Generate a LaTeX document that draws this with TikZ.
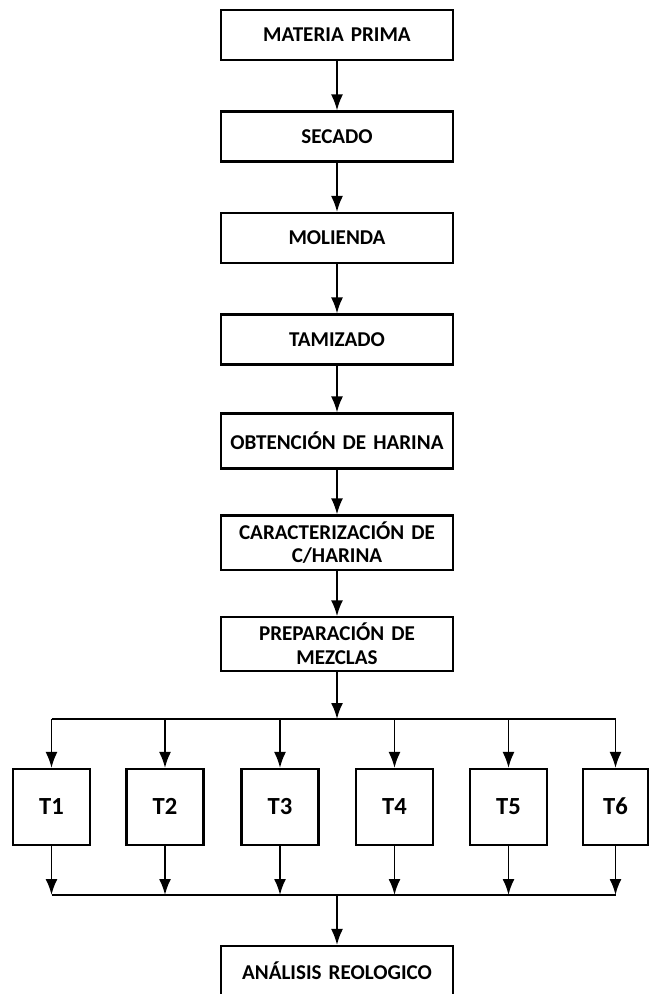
\documentclass[tikz,border=0pt]{standalone}
\usepackage{fontspec}
\setmainfont[Numbers=Lining]{Carlito}
\usepackage{tikz}
\usetikzlibrary{arrows.meta}
\tikzstyle{paso} = [rectangle, minimum width=4.6cm, text width=4.4cm,
minimum height=1cm, text centered, draw=black, line width=1.2pt, font=\bfseries\fontsize{12}{13.5}\selectfont]
\tikzstyle{trat} = [rectangle, minimum width=1.54cm, minimum height=1.52cm,
text height=1.7ex, text depth=0pt, text centered, draw=black, line width=1.2pt, font=\bfseries\fontsize{14}{16}\selectfont]
\tikzstyle{arrow} = [line width=1.1pt,-{Latex[length=3.2mm,width=2.4mm]}]
\tikzstyle{bus} = [line width=1.1pt]

\begin{document}
\begin{tikzpicture}[node distance=2.03cm]
\useasboundingbox (0,0) rectangle (13,-19.88);
\node (mp)[paso] at (6.74,-0.7) {MATERIA PRIMA};
\node (sec)[paso, below of=mp]{SECADO};
\node (mol)[paso, below of=sec]{MOLIENDA};
\node (tam)[paso, below of=mol]{TAMIZADO};
\node (obt)[paso, below of=tam, minimum height=1.1cm]{OBTENCIÓN DE HARINA};
\node (car)[paso, below of=obt, minimum height=0.95cm]{CARACTERIZACIÓN DE\\C/HARINA};
\node (prep)[paso, below of=car, minimum height=1.04cm]{PREPARACIÓN DE\\MEZCLAS};
\coordinate (bus1) at (6.74,-14.38);

\node (t1)[trat] at (1.03,-16.14){T1};
\node (t2)[trat] at (3.30,-16.14){T2};
\node (t3)[trat] at (5.60,-16.14){T3};
\node (t4)[trat] at (7.89,-16.14){T4};
\node (t5)[trat] at (10.17,-16.14){T5};
\node (t6)[trat, minimum width=1.3cm] at (12.31,-16.14){T6};
\coordinate (bus2) at (6.74,-17.9);

\node (ana)[paso] at (6.74,-19.42){ANÁLISIS REOLOGICO};

\draw [arrow](mp) -- (sec);
\draw [arrow](sec) -- (mol);
\draw [arrow](mol) -- (tam);
\draw [arrow](tam) -- (obt);
\draw [arrow](obt) -- (car);
\draw [arrow](car) -- (prep);
\draw [arrow](prep) -- (bus1);
\draw [bus](t1 |- bus1) -- (t6 |- bus1);
\draw [arrow](t1 |- bus1) -- (t1);
\draw [arrow](t2 |- bus1) -- (t2);
\draw [arrow](t3 |- bus1) -- (t3);
\draw [arrow](t4 |- bus1) -- (t4);
\draw [arrow](t5 |- bus1) -- (t5);
\draw [arrow](t6 |- bus1) -- (t6);
\draw [arrow](t1) -- (t1 |- bus2);
\draw [arrow](t2) -- (t2 |- bus2);
\draw [arrow](t3) -- (t3 |- bus2);
\draw [arrow](t4) -- (t4 |- bus2);
\draw [arrow](t5) -- (t5 |- bus2);
\draw [arrow](t6) -- (t6 |- bus2);
\draw [bus](t1 |- bus2) -- (t6 |- bus2);
\draw [arrow](bus2) -- (ana);
\end{tikzpicture}
\end{document}
